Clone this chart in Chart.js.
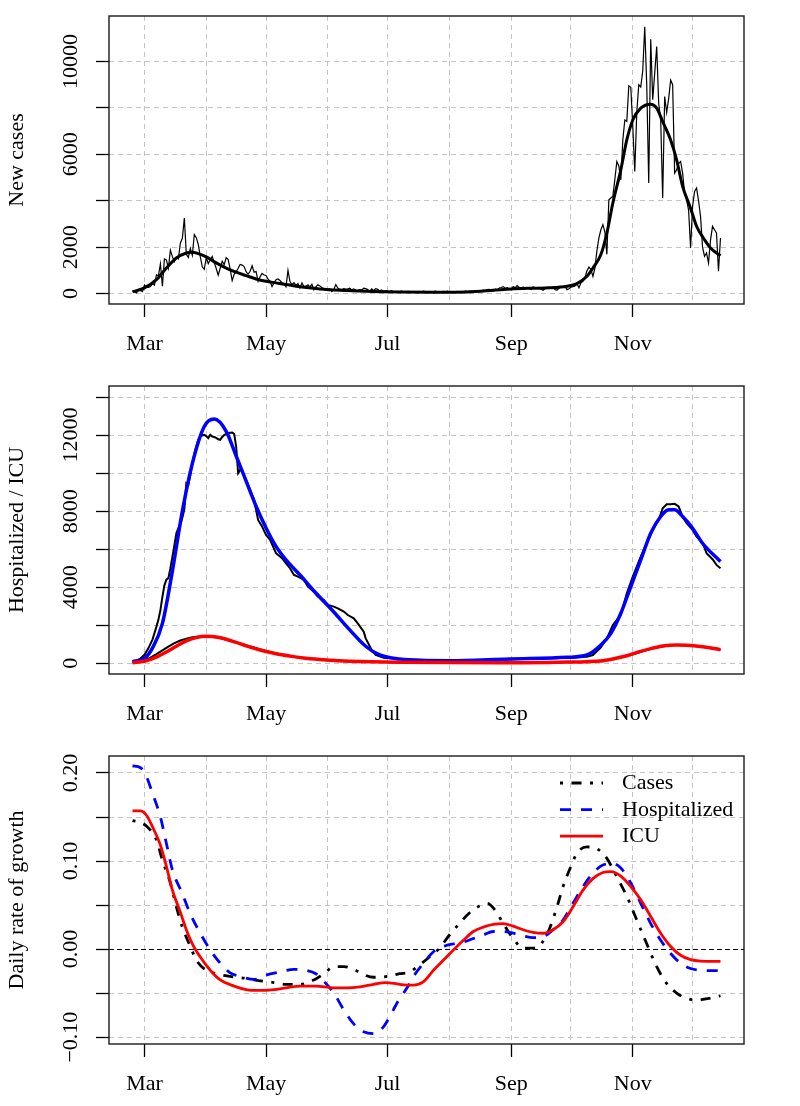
<!DOCTYPE html>
<html>
<head>
<meta charset="utf-8">
<script src="https://cdn.jsdelivr.net/npm/chart.js@4.4.0/dist/chart.umd.min.js"></script>
<style>
  html, body { margin: 0; padding: 0; background: #fff; }
  .panel { position: absolute; left: 0; width: 800px; }
</style>
</head>
<body>
<div class="panel" style="top:0"><canvas id="casesChart" width="800" height="370"></canvas></div>
<div class="panel" style="top:370px"><canvas id="hospChart" width="800" height="370"></canvas></div>
<div class="panel" style="top:740px"><canvas id="growthChart" width="800" height="366"></canvas></div>
<script>
// day 0 = 1 March 2020, series start on 24 Feb
const firstDay = -6;

const monthDays = [0, 31, 61, 92, 122, 153, 184, 214, 245, 275];
const monthLabels = ['Mar', '', 'May', '', 'Jul', '', 'Sep', '', 'Nov', ''];

// daily new cases, 24 Feb .. 15 Dec
const newCases = [
  110, 70, 25, 145, 130, 85,
  // Mar
  370, 270, 265, 300, 430, 360, 810, 770, 1280, 320, 1490, 1445, 1095, 1865, 1590, 1375,
  1570, 1495, 2170, 2380, 3250, 1690, 1555, 1940, 1645, 2545, 2410, 2115, 1590, 1155, 1045,
  // Apr
  1565, 1290, 1455, 1600, 1340, 1080, 790, 1090, 1390, 1245, 1545, 1460, 1050, 560, 830,
  940, 1090, 1250, 1225, 1160, 940, 830, 960, 1200, 920, 950, 530, 720, 870, 800,
  // May
  780, 620, 530, 300, 460, 600, 630, 560, 470, 420, 290, 1000, 520, 390, 470, 350,
  430, 240, 460, 300, 320, 380, 290, 400, 170, 290, 380, 330, 260, 210, 210,
  // Jun
  170, 210, 90, 180, 390, 240, 190, 170, 210, 190, 200, 230, 160, 200, 140,
  120, 170, 160, 230, 210, 170, 90, 200, 120, 210, 180, 120, 160, 90, 130,
  // Jul
  110, 90, 120, 60, 70, 50, 80, 110, 60, 70, 90, 80, 60, 60, 50, 40,
  80, 70, 100, 90, 50, 60, 70, 90, 110, 80, 40, 70, 90, 80, 100,
  // Aug
  60, 70, 50, 70, 90, 60, 80, 70, 100, 90, 110, 100, 80, 120, 130, 90,
  110, 150, 130, 170, 180, 140, 120, 190, 160, 240, 260, 300, 230, 250, 200,
  // Sep
  160, 300, 250, 340, 260, 230, 280, 200, 250, 210, 170, 290, 250, 230, 270,
  190, 140, 220, 240, 250, 230, 290, 170, 150, 230, 280, 270, 310, 170, 210,
  // Oct
  280, 300, 330, 420, 250, 460, 530, 680, 980, 1140, 1030, 740, 1100, 1850, 2400, 2750,
  2970, 2650, 1690, 4040, 4120, 4190, 4920, 5690, 5500, 4900, 6620, 7480, 7420, 8950, 8890,
  // Nov
  7200, 5260, 7800, 9000, 8900, 9600, 11500, 9000, 4760, 10960, 8350, 9500, 10640, 8200, 7500,
  4120, 8490, 7800, 8400, 9200, 9000, 5190, 5330, 5600, 5690, 5190, 4330, 4040, 3600, 1965,
  // Dec
  3757, 4400, 4546, 4000, 3327, 2000, 1606, 1750, 1319, 2300, 2897, 2750, 2610, 961, 2395
];

const casesSmoothDays = [-6, 0, 6, 11, 16, 21, 24, 27, 31, 36, 41, 46, 51, 56, 61, 66, 71, 78, 88, 98,
  111, 128, 145, 162, 175, 184, 195, 203, 212, 217, 222, 225, 229, 232, 235, 239, 242, 245, 249, 254,
  257, 260, 264, 267, 270, 274, 277, 281, 284, 289];
const casesSmooth = [80, 245, 600, 1100, 1530, 1750, 1780, 1720, 1580, 1320, 1100, 920, 775, 630, 530, 460, 390, 290, 200, 145,
  100, 70, 60, 70, 140, 200, 230, 245, 315, 430, 745, 1100, 1680, 2610, 3900, 5330, 6620, 7480, 7990, 8160,
  7990, 7410, 6620, 5760, 4620, 3680, 2900, 2320, 1960, 1630];

// hospitalized (observed and fitted)
const hospDays = [-6, -4, -2, 0, 2, 4, 5, 6, 7, 8, 9, 10, 11, 12, 13, 14, 15, 16, 17, 18, 19, 20, 21, 22, 23,
  24, 25, 26, 27, 28, 29, 30, 31, 32, 33, 34, 35, 36, 37, 38, 39, 40, 41, 42, 43, 44, 45, 46, 47, 48, 49,
  51, 53, 55, 57, 59, 61, 63, 66, 69, 71, 73, 75, 77, 80, 82, 85, 87, 90, 92, 95, 97, 100, 102, 105,
  107, 110, 111, 114, 116, 120, 128, 140, 153, 165, 175, 184, 195, 205, 212, 218, 222, 225, 229, 232,
  235, 239, 242, 245, 249, 252, 255, 258, 260, 262, 264, 266, 268, 270, 272, 275, 277, 280, 282, 285, 287, 289];
const hospitalized = [100, 150, 250, 450, 800, 1250, 1580, 1930, 2300, 2800, 3500, 4100, 4400, 4480, 5000,
  5600, 6200, 6840, 7100, 7300, 7650, 8100, 9470, 9380, 9900, 10500, 11000, 11400, 11750, 11930, 11980,
  12015, 11950, 11840, 12015, 11920, 11900, 11850, 11780, 11750, 11900, 12000, 12067, 12100, 12120,
  12137, 12067, 11400, 10000, 10170, 10100, 9650, 9120, 8600, 7540, 7190, 6750, 6490, 5790, 5525, 5260,
  5000, 4650, 4560, 4385, 4030, 3770, 3510, 3330, 3070, 2980, 2890, 2720, 2540, 2370, 2100, 1660, 1315,
  700, 440, 300, 230, 190, 170, 180, 195, 210, 240, 270, 298, 330, 350, 438, 842, 1315, 2017, 2543, 3683,
  4560, 5613, 6314, 7016, 7542, 8156, 8367, 8360, 8384, 8244, 7718, 7367, 7016, 6665, 6349, 5788, 5472, 5174, 4999];

const hospFitDays = [-6, 0, 4, 9, 14, 19, 24, 30, 35, 41, 46, 51, 56, 61, 66, 71, 78, 86, 95, 103,
  111, 118, 128, 153, 183, 212, 222, 229, 234, 239, 244, 249, 254, 259, 263, 266, 270, 275, 280, 289];
const hospFit = [88, 263, 800, 2100, 4850, 8000, 10500, 12450, 12840, 12200, 10900, 9580, 8260, 7120, 6150, 5440, 4650, 3700, 2700, 1760,
  900, 440, 228, 123, 228, 316, 438, 965, 1579, 2631, 4034, 5437, 6840, 7718, 8068, 8068, 7718, 7104, 6314, 5350];

// ICU (observed and fitted)
const icuDays = [-6, -3, 0, 3, 6, 9, 12, 15, 18, 21, 24, 27, 30, 33, 36, 39, 42, 45, 50, 55,
  60, 65, 70, 75, 80, 90, 100, 110, 120, 135, 160, 190, 210, 225, 232, 238, 244, 250, 256, 262,
  266, 270, 275, 280, 285, 289];
const icu = [30, 70, 150, 300, 480, 680, 880, 1060, 1200, 1300, 1370, 1400, 1410, 1400, 1370, 1300, 1220, 1140, 980, 830,
  680, 540, 430, 340, 270, 190, 120, 90, 65, 45, 38, 45, 62, 90, 170, 290, 440, 640, 820, 930,
  960, 960, 930, 870, 790, 700];

const icuFitDays = [-6, 0, 6, 11, 16, 21, 26, 31, 36, 41, 46, 51, 56, 61, 66, 73, 81, 91, 103, 128,
  178, 212, 222, 229, 235, 242, 248, 255, 261, 267, 272, 279, 289];
const icuFit = [35, 110, 330, 600, 900, 1180, 1360, 1420, 1390, 1270, 1100, 920, 760, 620, 500, 380, 270, 180, 110, 55,
  35, 70, 88, 123, 230, 400, 600, 800, 930, 970, 950, 880, 720];

// daily rate of growth
const growthCasesDays = [-6, -1, 3, 6, 9, 13, 16, 19, 23, 26, 31, 36, 43, 50, 58, 65, 71, 78, 85, 90,
  95, 100, 105, 110, 115, 122, 128, 133, 138, 143, 148, 153, 158, 163, 168, 172, 176, 180, 185, 190,
  195, 199, 203, 207, 210, 214, 217, 222, 227, 232, 237, 242, 247, 252, 257, 262, 267, 272, 277, 283, 289];
const growthCases = [0.146, 0.143, 0.135, 0.124, 0.101, 0.075, 0.048, 0.025, 0.003, -0.0125,
  -0.024, -0.028, -0.031, -0.033, -0.036, -0.038, -0.040, -0.040, -0.035, -0.028,
  -0.020, -0.020, -0.023, -0.029, -0.032, -0.031, -0.028, -0.026, -0.018, -0.009,
  0.001, 0.016, 0.029, 0.041, 0.049, 0.052, 0.044, 0.029, 0.012, 0.001,
  0.001, 0.006, 0.022, 0.048, 0.071, 0.094, 0.109, 0.116, 0.114, 0.103,
  0.082, 0.060, 0.033, 0.006, -0.020, -0.039, -0.050, -0.056, -0.058, -0.056, -0.053];

const growthHospDays = [-6, -2, 1, 4, 8, 11, 14, 19, 23, 28, 33, 38, 43, 48, 55, 61, 68, 75, 81, 86,
  91, 95, 100, 105, 110, 115, 120, 123, 127, 132, 135, 140, 145, 150, 155, 160, 165, 170, 175, 180,
  185, 190, 195, 200, 205, 210, 215, 220, 225, 230, 235, 239, 244, 249, 254, 259, 264, 269, 274, 279, 285, 289];
const growthHosp = [0.208, 0.206, 0.196, 0.177, 0.150, 0.120, 0.090, 0.063, 0.040, 0.018,
  -0.001, -0.016, -0.027, -0.031, -0.0345, -0.0295, -0.026, -0.023, -0.024, -0.028,
  -0.039, -0.050, -0.069, -0.085, -0.094, -0.096, -0.088, -0.077, -0.060, -0.043,
  -0.031, -0.016, -0.003, 0.003, 0.006, 0.008, 0.012, 0.016, 0.020, 0.020,
  0.018, 0.015, 0.013, 0.014, 0.022, 0.033, 0.052, 0.071, 0.086, 0.0955,
  0.097, 0.092, 0.075, 0.052, 0.029, 0.010, -0.005, -0.016, -0.022, -0.024, -0.0245, -0.0245];

const growthIcuDays = [-6, -2, 1, 4, 8, 11, 14, 18, 21, 24, 28, 33, 38, 45, 51, 58, 65, 71, 78, 86,
  95, 101, 108, 115, 121, 128, 135, 140, 145, 150, 155, 160, 165, 170, 175, 180, 185, 190, 195, 200,
  205, 210, 215, 220, 225, 230, 234, 239, 244, 249, 254, 259, 264, 269, 274, 279, 289];
const growthIcu = [0.157, 0.157, 0.152, 0.139, 0.118, 0.094, 0.067, 0.042, 0.022, 0.006,
  -0.009, -0.024, -0.035, -0.042, -0.046, -0.047, -0.046, -0.044, -0.042, -0.042,
  -0.044, -0.044, -0.043, -0.040, -0.038, -0.040, -0.041, -0.037, -0.024, -0.0125,
  -0.001, 0.010, 0.020, 0.025, 0.028, 0.029, 0.026, 0.022, 0.019, 0.018,
  0.022, 0.031, 0.048, 0.067, 0.080, 0.087, 0.088, 0.083, 0.071, 0.056,
  0.037, 0.018, 0.003, -0.007, -0.012, -0.0136, -0.014];

// y axis ticks
const casesTicks = [0, 2000, 4000, 6000, 8000, 10000];
const casesTickLabels = ['0', '2000', '', '6000', '', '10000'];
const hospTicks = [0, 2000, 4000, 6000, 8000, 10000, 12000, 14000];
const hospTickLabels = ['0', '', '4000', '', '8000', '', '12000', ''];
const growthTicks = [-0.10, -0.05, 0, 0.05, 0.10, 0.15, 0.20];
const growthTickLabels = ['\u22120.10', '', '0.00', '', '0.10', '', '0.20'];

const FONT = "'Liberation Serif', 'Times New Roman', serif";
const GRID = '#c4c4c4';

function daily(start, values) {
  return values.map((v, i) => ({ x: start + i, y: v }));
}
function pts(days, values) {
  return values.map((v, i) => ({ x: days[i], y: v }));
}

// R style frame around the plot region
const boxPlugin = {
  id: 'box',
  afterDatasetsDraw(chart) {
    const { ctx, chartArea: a } = chart;
    ctx.save();
    ctx.strokeStyle = '#1a1a1a';
    ctx.lineWidth = 1.4;
    ctx.strokeRect(a.left, a.top, a.right - a.left, a.bottom - a.top);
    ctx.restore();
  }
};

function xAxis(height) {
  return {
    type: 'linear',
    min: -17.8,
    max: 300.8,
    afterBuildTicks: s => { s.ticks = monthDays.map(v => ({ value: v })); },
    afterFit: s => { s.height = height; },
    grid: {
      color: GRID,
      lineWidth: 1,
      tickLength: 13,
      tickWidth: 1.3,
      tickColor: c => (monthLabels[c.index] ? '#000' : 'rgba(0,0,0,0)')
    },
    border: { display: false, dash: [5, 4] },
    ticks: {
      autoSkip: false, maxRotation: 0, minRotation: 0, padding: 14,
      color: '#000', font: { family: FONT, size: 22 },
      callback: (v, i) => monthLabels[i]
    }
  };
}

function yAxis(min, max, tickVals, tickLabels, title, pad) {
  return {
    type: 'linear',
    min, max,
    afterBuildTicks: s => { s.ticks = tickVals.map(v => ({ value: v })); },
    afterFit: s => { s.width = 109; },
    grid: {
      color: c => (c.tick && c.tick.value === 0 && min < -0.01 && max < 1 ? '#000' : GRID),
      lineWidth: 1,
      tickLength: 13,
      tickWidth: 1.3,
      tickColor: '#000'
    },
    border: { display: false, dash: [5, 4] },
    ticks: {
      autoSkip: false, minRotation: 90, maxRotation: 90, crossAlign: 'center', padding: pad,
      color: '#000', font: { family: FONT, size: 22 },
      callback: (v, i) => tickLabels[i]
    },
    title: {
      display: true, text: title, color: '#000',
      font: { family: FONT, size: 22 }, padding: { top: 4, bottom: 0 }
    }
  };
}

function baseOptions(xHeight, y) {
  return {
    responsive: false,
    animation: false,
    devicePixelRatio: 1,
    layout: { padding: { top: 16, right: 56, left: 0, bottom: 0 } },
    elements: { point: { radius: 0 } },
    plugins: { legend: { display: false }, tooltip: { enabled: false } },
    scales: { x: xAxis(xHeight), y }
  };
}

function line(data, color, width, extra) {
  return Object.assign({
    data, borderColor: color, borderWidth: width, fill: false,
    pointRadius: 0, tension: 0
  }, extra || {});
}

// panel 1: new cases
new Chart(document.getElementById('casesChart'), {
  type: 'line',
  data: {
    datasets: [
      line(pts(casesSmoothDays, casesSmooth), '#000', 3, { cubicInterpolationMode: 'monotone', order: 1 }),
      line(daily(firstDay, newCases), '#000', 1.2, { order: 2 })
    ]
  },
  options: baseOptions(66, yAxis(-450, 11960, casesTicks, casesTickLabels, 'New cases', -2.5)),
  plugins: [boxPlugin]
});

// panel 2: hospitalized / ICU
new Chart(document.getElementById('hospChart'), {
  type: 'line',
  data: {
    datasets: [
      line(pts(icuFitDays, icuFit), '#ff0000', 3.5, { cubicInterpolationMode: 'monotone', order: 1 }),
      line(pts(hospFitDays, hospFit), '#0000ff', 3.5, { cubicInterpolationMode: 'monotone', order: 2 }),
      line(pts(icuDays, icu), '#000', 2, { order: 3 }),
      line(pts(hospDays, hospitalized), '#000', 2, { order: 4 })
    ]
  },
  options: baseOptions(66, yAxis(-560, 14580, hospTicks, hospTickLabels, 'Hospitalized / ICU', -2.5)),
  plugins: [boxPlugin]
});

// panel 3: growth rates, legend drawn in the top right corner
const growthSeries = [
  { label: 'Cases', data: pts(growthCasesDays, growthCases), color: '#000', dash: [3, 8.5, 10, 8.5] },
  { label: 'Hospitalized', data: pts(growthHospDays, growthHosp), color: '#0000ff', dash: [11, 10] },
  { label: 'ICU', data: pts(growthIcuDays, growthIcu), color: '#ff0000', dash: [] }
];

const legendPlugin = {
  id: 'rLegend',
  afterDatasetsDraw(chart) {
    const { ctx, chartArea: a } = chart;
    ctx.save();
    growthSeries.forEach((s, i) => {
      const y = a.top + 27 + i * 26.6;
      ctx.strokeStyle = s.color;
      ctx.lineWidth = 2.8;
      ctx.setLineDash(s.dash);
      ctx.beginPath();
      ctx.moveTo(a.left + 451, y);
      ctx.lineTo(a.left + 494, y);
      ctx.stroke();
      ctx.setLineDash([]);
      ctx.fillStyle = '#000';
      ctx.font = '22px ' + FONT;
      ctx.textBaseline = 'middle';
      ctx.textAlign = 'left';
      ctx.fillText(s.label, a.left + 513, y + 0.5);
    });
    ctx.restore();
  }
};

new Chart(document.getElementById('growthChart'), {
  type: 'line',
  data: {
    datasets: growthSeries.map((s, i) => line(s.data, s.color, 2.8, {
      label: s.label, borderDash: s.dash, cubicInterpolationMode: 'monotone', order: 3 - i
    }))
  },
  options: (() => {
    const o = baseOptions(62, yAxis(-0.1078, 0.2193, growthTicks, growthTickLabels, 'Daily rate of growth', -0.5));
    o.scales.y.border.dash = c => (c.tick && c.tick.value === 0 ? [5, 3] : [5, 4]);
    return o;
  })(),
  plugins: [boxPlugin, legendPlugin]
});
</script>
</body>
</html>
